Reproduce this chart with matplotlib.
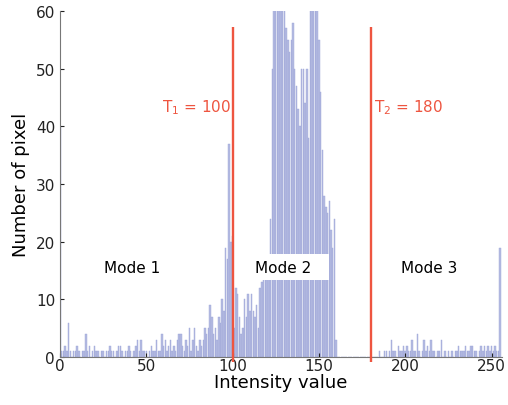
import numpy as np
import matplotlib
matplotlib.use("Agg")
import matplotlib.pyplot as plt
from matplotlib.patches import Rectangle

# histogram counts for intensity 0..255 (tall ones clipped at 60)
counts = [
    40, 1, 1, 2, 1, 6, 1, 0, 1, 1,
    2, 1, 0, 1, 1, 4, 1, 2, 0, 1,
    2, 1, 1, 0, 1, 1, 0, 1, 1, 2,
    1, 1, 0, 1, 2, 2, 1, 0, 1, 1,
    2, 1, 0, 1, 2, 3, 1, 3, 1, 1,
    1, 0, 1, 2, 1, 1, 3, 1, 1, 4,
    2, 3, 1, 2, 3, 1, 2, 1, 3, 4,
    4, 2, 1, 3, 2, 5, 1, 3, 5, 2,
    1, 3, 2, 3, 5, 4, 5, 9, 7, 4,
    5, 3, 7, 6, 10, 8, 19, 17, 37, 20,
    21, 5, 12, 11, 7, 4, 5, 10, 7, 11,
    8, 11, 8, 7, 9, 5, 12, 13, 14, 16,
    15, 14, 24, 50, 68, 75, 82, 78, 70, 66,
    66, 57, 55, 53, 55, 58, 50, 47, 43, 40,
    50, 50, 44, 50, 38, 65, 72, 80, 70, 66,
    55, 46, 36, 28, 26, 25, 27, 22, 19, 24,
    3, 0, 0, 0, 0, 0, 0, 0, 0, 0,
    0, 0, 0, 0, 0, 0, 0, 0, 0, 0,
    0, 0, 0, 0, 0, 1, 0, 0, 1, 1,
    0, 1, 3, 1, 1, 0, 2, 1, 1, 2,
    1, 2, 1, 1, 3, 1, 1, 4, 1, 0,
    1, 3, 1, 2, 1, 3, 1, 1, 0, 1,
    1, 3, 0, 1, 0, 1, 0, 1, 0, 1,
    1, 2, 1, 1, 1, 2, 1, 1, 2, 2,
    1, 1, 0, 1, 2, 1, 2, 1, 2, 1,
    2, 1, 2, 1, 1, 19,
]
intensity = np.arange(len(counts))

thresholds = [100, 180]
threshold_labels = [r"T$_\mathregular{1}$ = 100", r"T$_\mathregular{2}$ = 180"]
mode_labels = ["Mode 1", "Mode 2", "Mode 3"]
mode_x = [42, 129, 214]

red = "#ee5540"

fig = plt.figure(figsize=(5.08, 4.06), dpi=100)
ax = fig.add_axes([0.118, 0.118, 0.870, 0.852])

ax.bar(intensity, counts, width=0.85, color="#b4bbe2", edgecolor="#9ca5d8", linewidth=0.3)

ax.vlines(thresholds, -0.8, 57.3, color=red, linewidth=1.7, clip_on=False, zorder=4)

ax.text(thresholds[0] - 1, 43.5, threshold_labels[0], color=red, fontsize=11,
        ha="right", va="center")
ax.text(thresholds[1] + 2, 43.5, threshold_labels[1], color=red, fontsize=11,
        ha="left", va="center")

# white label boxes, wider than the text like in the original
for xm in mode_x:
    ax.add_patch(Rectangle((xm - 27, 13.3), 54, 4.6, facecolor="white",
                           edgecolor="none", zorder=4))
for lab, xm in zip(mode_labels, mode_x):
    ax.text(xm, 15.6, lab, fontsize=11, ha="center", va="center", zorder=5)

ax.set_xlim(0, 256)
ax.set_ylim(0, 60)
ax.set_xticks([0, 50, 100, 150, 200, 250])
ax.set_yticks(np.arange(0, 61, 10))
ax.tick_params(direction="in", length=3, labelsize=11, colors="#222222")
ax.tick_params(axis="x", pad=1)
for s in ["top", "right"]:
    ax.spines[s].set_visible(False)
for s in ["left", "bottom"]:
    ax.spines[s].set_color("#777777")

ax.set_xlabel("Intensity value", fontsize=13, labelpad=0)
ax.set_ylabel("Number of pixel", fontsize=13, labelpad=4)

fig.savefig("out.png", dpi=100)
